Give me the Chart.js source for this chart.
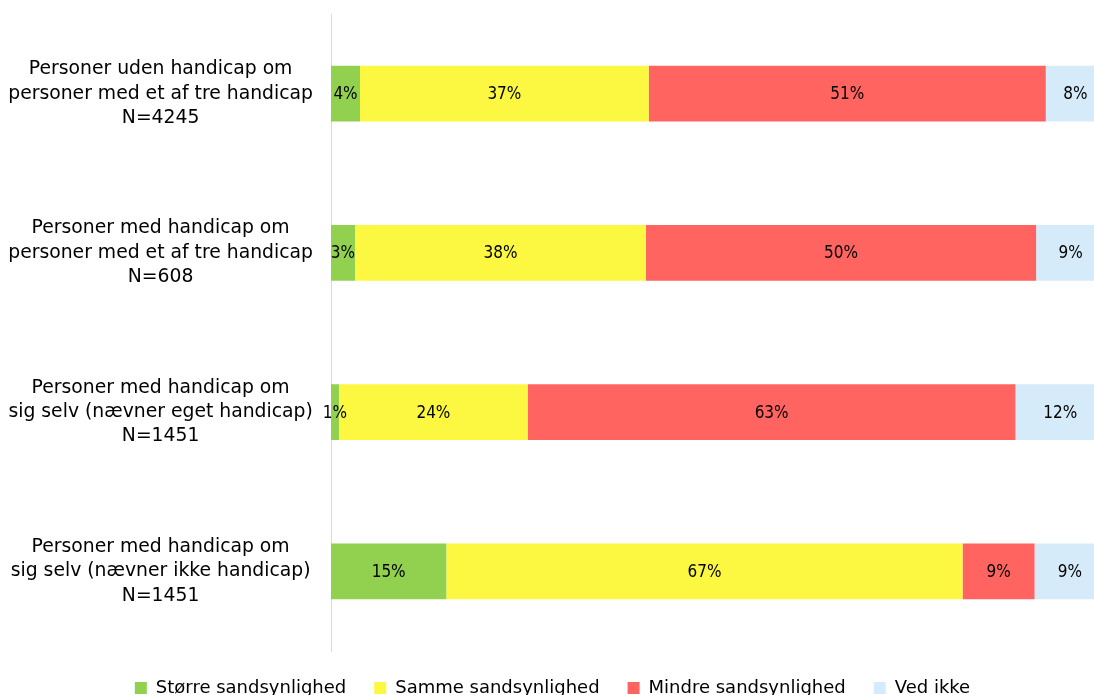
<!DOCTYPE html>
<html>
<head>
<meta charset="utf-8">
<script src="https://cdn.jsdelivr.net/npm/chart.js@4"></script>
<style>
  html, body { margin: 0; padding: 0; background: #fff; overflow: hidden; }
  .wrap { width: 1115px; height: 707px; }
</style>
</head>
<body>
<div class="wrap"><canvas id="myChart"></canvas></div>
<script>
const categories = [
  ["Personer uden handicap om", "personer med et af tre handicap", "N=4245"],
  ["Personer med handicap om", "personer med et af tre handicap", "N=608"],
  ["Personer med handicap om", "sig selv (nævner eget handicap)", "N=1451"],
  ["Personer med handicap om", "sig selv (nævner ikke handicap)", "N=1451"],
];
const storre = [3.75, 3.1, 1.03, 14.9];
const samme = [37.3, 37.6, 24.4, 66.7];
const mindre = [51.3, 50.4, 63.0, 9.3];
const vedIkke = [7.65, 8.9, 11.6, 9.1];

const font = "'DejaVu Sans', sans-serif";
const condensed = "'DejaVu Sans Condensed', 'DejaVu Sans', sans-serif";

// percentage text in the middle of every segment
const segLabels = {
  id: "segLabels",
  afterDatasetsDraw(chart) {
    const c = chart.ctx;
    c.save();
    c.font = "17px " + condensed;
    c.fillStyle = "#000";
    c.textAlign = "center";
    c.textBaseline = "middle";
    chart.data.datasets.forEach((ds, i) => {
      chart.getDatasetMeta(i).data.forEach((bar, j) => {
        const v = ds.data[j];
        c.fillText(Math.round(v) + "%", (bar.x + bar.base) / 2, bar.y + 1);
      });
    });
    c.restore();
  },
};

const ctx = document.getElementById("myChart").getContext("2d");
new Chart(ctx, {
  type: "bar",
  data: {
    labels: categories,
    datasets: [
      { label: "Større sandsynlighed", data: storre, backgroundColor: "#92d050" },
      { label: "Samme sandsynlighed", data: samme, backgroundColor: "#fcf740" },
      { label: "Mindre sandsynlighed", data: mindre, backgroundColor: "#ff6461" },
      { label: "Ved ikke", data: vedIkke, backgroundColor: "#d5ebfa" },
    ],
  },
  options: {
    indexAxis: "y",
    responsive: true,
    maintainAspectRatio: false,
    animation: false,
    layout: { padding: { top: 14, right: 10, left: 0, bottom: 0 } },
    categoryPercentage: 1,
    barPercentage: 0.35,
    scales: {
      x: { stacked: true, min: 0, max: 100, display: false },
      y: {
        stacked: true,
        grid: { display: false, drawTicks: false },
        border: { display: true, color: "#d9d9d9", width: 1 },
        ticks: {
          color: "#000",
          crossAlign: "center",
          padding: 18,
          font: { family: font, size: 18.8, lineHeight: 1.3 },
        },
        afterFit(scale) {
          scale.width = 331;
          scale.paddingTop = 0;
          scale.paddingBottom = 0;
        },
      },
    },
    plugins: {
      tooltip: { enabled: false },
      legend: {
        position: "bottom",
        labels: {
          boxWidth: 12,
          boxHeight: 12,
          padding: 28,
          color: "#000",
          font: { family: font, size: 18 },
        },
      },
    },
  },
  plugins: [segLabels],
});
</script>
</body>
</html>
